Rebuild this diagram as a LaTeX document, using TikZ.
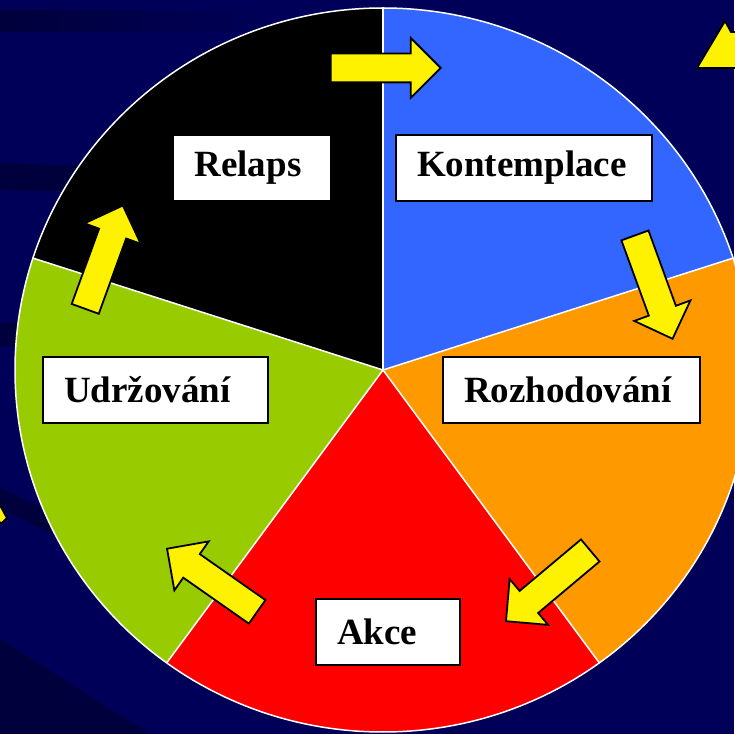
\documentclass[tikz,border=0pt]{standalone}
\usepackage{fontspec}
\setmainfont{Liberation Serif}
\usepackage{tikz}
\usetikzlibrary{shapes.arrows,fadings}
\definecolor{bgnavy}{RGB}{0,0,88}
\definecolor{bgdark}{RGB}{0,0,60}
\definecolor{kontcol}{RGB}{51,102,255}
\definecolor{rozhcol}{RGB}{255,153,0}
\definecolor{akcecol}{RGB}{255,0,0}
\definecolor{udrzcol}{RGB}{153,204,0}

\begin{document}
\begin{tikzpicture}[x=1pt,y=1pt,
		stage/.style={rectangle,draw=black,fill=white,line width=1.8pt,minimum height=66pt,inner xsep=21pt,inner ysep=0pt,align=left,font=\fontsize{37}{40}\selectfont\bfseries},
		yellow arrow/.style={single arrow,draw=black,fill=yellow,line width=1.8pt,minimum height=110pt,minimum width=58pt,single arrow head extend=15.5pt,inner xsep=0pt,inner ysep=13.5pt,anchor=tip},
		part arrow/.style={draw=black,fill=yellow,line width=1.8pt},
		divider/.style={white,line width=1.5pt}]
	
	\useasboundingbox (0,0) rectangle (734,734);
	\fill[bgnavy] (0,0) rectangle (734,734);
	
	% streaks in the background
	\fill[bgdark,path fading=east] (0,702) rectangle (270,724);
	\fill[bgdark] (0,571) -- (150,566) -- (150,541) -- (0,544) -- cycle;
	\fill[bgdark] (0,411) -- (120,408) -- (120,386) -- (0,388) -- cycle;
	\fill[bgdark] (0,246) -- (120,190) -- (120,165) -- (0,226) -- cycle;
	\fill[bgdark] (0,0) -- (0,95) -- (150,0) -- cycle;
	
	% the pie
	\coordinate (c) at (383,364);
	\fill[black] (c) -- ++(90:368pt and 362pt) arc[start angle=90,end angle=162,x radius=368pt,y radius=362pt] -- cycle;
	\fill[kontcol] (c) -- ++(18:368pt and 362pt) arc[start angle=18,end angle=90,x radius=368pt,y radius=362pt] -- cycle;
	\fill[rozhcol] (c) -- ++(-54:368pt and 362pt) arc[start angle=-54,end angle=18,x radius=368pt,y radius=362pt] -- cycle;
	\fill[akcecol] (c) -- ++(-126:368pt and 362pt) arc[start angle=-126,end angle=-54,x radius=368pt,y radius=362pt] -- cycle;
	\fill[udrzcol] (c) -- ++(162:368pt and 362pt) arc[start angle=162,end angle=234,x radius=368pt,y radius=362pt] -- cycle;
	\foreach \a in {18,90,162,234,306}
		\draw[divider] (c) -- ++(\a:368pt and 362pt);
	\draw[divider] (c) ellipse[x radius=368pt,y radius=362pt];
	
	% arrows
	\node[yellow arrow] (rk) at (442,666) {};
	\node[yellow arrow,rotate=-70] (kr) at (673,394) {};
	\node[yellow arrow,rotate=-140] (ra) at (505,112) {};
	\node[yellow arrow,rotate=145] (au) at (166,186) {};
	\node[yellow arrow,rotate=70] (ur) at (123.3,529.7) {};
	\filldraw[part arrow] (725,713) -- (731,702) -- (745,702) -- (745,666) -- (697,666) -- cycle;
	\filldraw[part arrow] (-5,238) -- (7,216) -- (2,211) -- (-5,213) -- cycle;
	
	% stages
	\node[stage,text width=115pt] (rel) at (252,566) {Relaps};
	\node[stage,text width=214pt] (kon) at (524,566) {Kontemplace};
	\node[stage,text width=183pt] (udr) at (155.5,344) {Udržování};
	\node[stage,text width=215pt] (roz) at (571.5,344) {Rozhodování};
	\node[stage,text width=102pt] (akc) at (388,102) {Akce};
\end{tikzpicture}
\end{document}
